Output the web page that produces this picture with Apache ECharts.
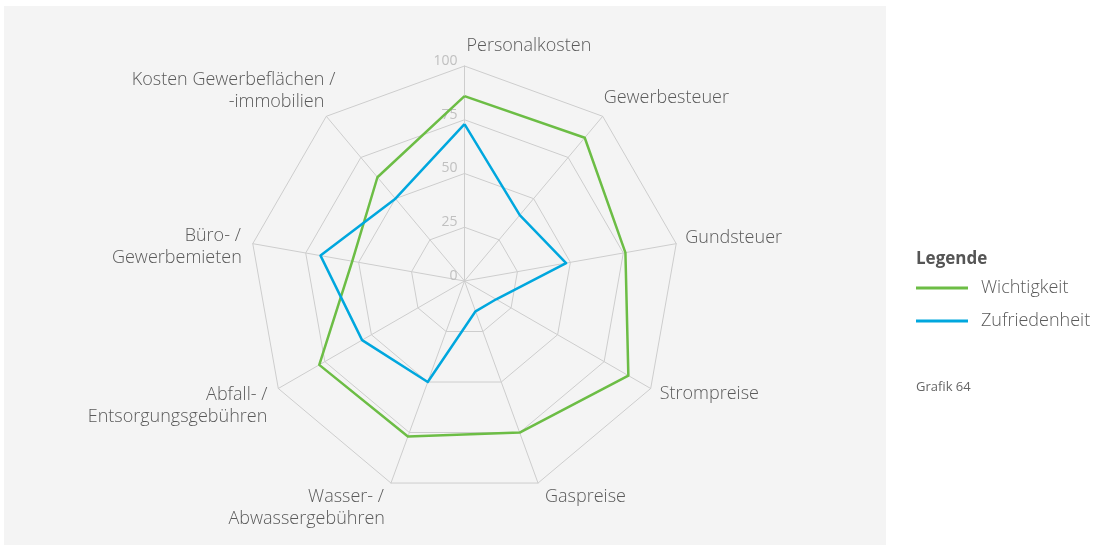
<!DOCTYPE html>
<html>
<head>
<meta charset="utf-8">
<script src="https://cdn.jsdelivr.net/npm/echarts@6/dist/echarts.min.js"></script>
<style>
  html, body { margin: 0; padding: 0; background: #ffffff; }
  #wrap { position: relative; width: 1094px; height: 545px; overflow: hidden; }
  #panel { position: absolute; left: 4px; top: 6px; width: 882px; height: 540px; background: #f4f4f4; }
  #chart { position: absolute; left: 0; top: 0; width: 1094px; height: 545px; }
</style>
</head>
<body>
<div id="wrap"><div id="panel"></div><div id="chart"></div></div>
<script>
// Cost factors, listed clockwise starting at the top
const categories = [
  'Personalkosten',
  'Gewerbesteuer',
  'Gundsteuer',
  'Strompreise',
  'Gaspreise',
  'Wasser- /\nAbwassergebühren',
  'Abfall- /\nEntsorgungsgebühren',
  'Büro- /\nGewerbemieten',
  'Kosten Gewerbeflächen /\n-immobilien'
];
const seriesNames = ['Wichtigkeit', 'Zufriedenheit'];
const wichtigkeit   = [86, 87, 76, 88, 75, 77, 78, 53, 63];
const zufriedenheit = [73, 40, 48, 17, 15, 50, 55, 68, 50];
const tickValues = [0, 25, 50, 75, 100];

// ---- layout / styling ----
const FONT = '"Open Sans", "Noto Sans", sans-serif';
const TEXT = '#5a5a5a';
const GRID = '#cdcdcd';
const COLORS = ['#6cbd45', '#00a7de'];
const CX = 464.5, CY = 281, R = 215;
// per-axis name placement: [dx, dy (first line centre), align, per-line extra dx]
const nameLayout = [
  [2, -20, 'left', [0]],
  [1, -18, 'left', [0]],
  [9, -6, 'left', [0]],
  [9, 5, 'left', [0]],
  [7, 14, 'left', [0]],
  [-7, 14, 'right', [0, 1]],
  [-11, 6.5, 'right', [0, 0]],
  [-12, -8, 'right', [0, 1]],
  [9, -36, 'right', [0, -11]]
];
const LINE_H = 22;

// ECharts lays radar indicators counter-clockwise, so reverse all but the first
const n = categories.length;
const order = [0];
for (let k = n - 1; k >= 1; k--) order.push(k);

const graphics = [];
categories.forEach(function (label, i) {
  const a = (i * 360 / n) * Math.PI / 180;
  const vx = CX + R * Math.sin(a);
  const vy = CY - R * Math.cos(a);
  const lay = nameLayout[i];
  label.split('\n').forEach(function (line, j) {
    graphics.push({
      type: 'text',
      x: vx + lay[0] + (lay[3][j] || 0),
      y: vy + lay[1] + j * LINE_H,
      silent: true,
      style: {
        text: line,
        fill: TEXT,
        font: '300 18px ' + FONT,
        align: lay[2],
        verticalAlign: 'middle'
      }
    });
  });
});

const chart = echarts.init(document.getElementById('chart'), null, { renderer: 'canvas' });
chart.setOption({
  animation: false,
  color: COLORS,
  textStyle: { fontFamily: FONT },
  title: [
    { text: 'Legende', left: 911, top: 246,
      textStyle: { fontFamily: FONT, fontSize: 17, fontWeight: 'bold', color: '#555555' } },
    { text: 'Grafik 64', left: 911, top: 376,
      textStyle: { fontFamily: FONT, fontSize: 13, fontWeight: 'normal', color: '#666666' } }
  ],
  legend: {
    orient: 'vertical',
    left: 916, top: 279,
    padding: 0,
    icon: 'rect',
    itemWidth: 52, itemHeight: 3,
    itemGap: 15,
    data: seriesNames,
    textStyle: { fontFamily: FONT, fontSize: 18, fontWeight: 300, color: TEXT, padding: [0, 0, 0, 8] }
  },
  radar: {
    center: [CX, CY],
    radius: R,
    startAngle: 90,
    shape: 'polygon',
    splitNumber: 4,
    indicator: order.map(function (i) { return { name: categories[i], min: 0, max: 100 }; }),
    axisName: { show: false },
    axisLine: { lineStyle: { color: GRID, width: 1 } },
    splitLine: { lineStyle: { color: GRID, width: 1 } },
    splitArea: { show: false },
    axisTick: { show: false },
    axisLabel: { show: false }
  },
  // value scale along the top axis
  polar: { center: [CX, CY], radius: R },
  angleAxis: { show: false, startAngle: 90, min: 0, max: 360 },
  radiusAxis: {
    min: tickValues[0], max: tickValues[tickValues.length - 1], interval: tickValues[1] - tickValues[0],
    axisLine: { show: false }, axisTick: { show: false }, splitLine: { show: false },
    axisLabel: { color: '#c0c0c0', fontSize: 14, fontFamily: FONT, margin: 7,
                 verticalAlign: 'bottom', lineHeight: 10 }
  },
  graphic: graphics,
  series: [{
    type: 'radar',
    symbol: 'none',
    lineStyle: { width: 2.5 },
    data: [
      { name: seriesNames[0], value: order.map(function (i) { return wichtigkeit[i]; }),
        lineStyle: { color: COLORS[0], width: 2.5 }, itemStyle: { color: COLORS[0] } },
      { name: seriesNames[1], value: order.map(function (i) { return zufriedenheit[i]; }),
        lineStyle: { color: COLORS[1], width: 2.5 }, itemStyle: { color: COLORS[1] } }
    ]
  }]
});
</script>
</body>
</html>
